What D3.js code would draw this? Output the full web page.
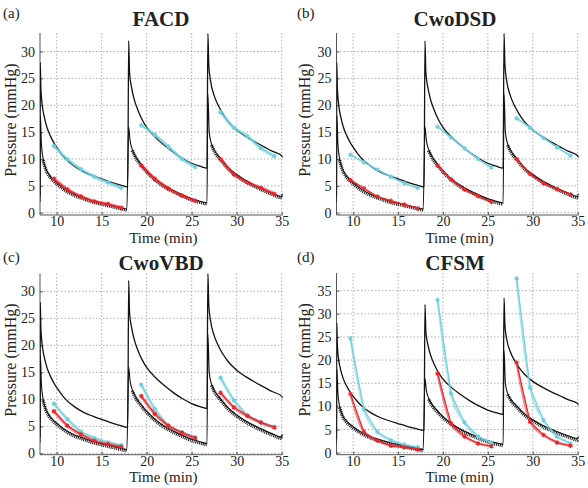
<!DOCTYPE html>
<meta charset="utf-8">
<title>Pressure fits</title>
<style>
  body { margin: 0; background: #fff; }
  text { font-family: "Liberation Serif", "Times New Roman", serif; fill: #222; }
  .grid line { stroke: #9a9a9a; stroke-width: 0.8px; stroke-dasharray: 1.5 2; }
</style>
<body>
<script src="https://cdn.jsdelivr.net/npm/d3@7"></script>
<script>

// measured pressure (same recording in every panel)
var upperT = [8.15, 8.18, 8.25, 8.4, 8.6, 8.9, 9.3, 9.7, 10, 10.5, 11, 12, 13, 14, 15, 16, 17, 17.9,
              18.0, 18.1, 18.3, 18.6, 19, 19.5, 20, 21, 22, 23, 24, 25, 26, 26.7,
              26.8, 26.9, 27.1, 27.5, 28, 28.5, 29, 30, 31, 32, 33, 34, 35, 35.1];
var upperV = [3, 28, 23, 20, 18, 16, 14.3, 13, 12.2, 11, 10, 8.6, 7.6, 6.9, 6.3, 5.7, 5.2, 4.8,
              32, 26, 23.5, 21.2, 19.2, 17.3, 15.9, 14, 12.5, 11.2, 10.1, 9.2, 8.6, 8.3,
              33.4, 27.5, 24.5, 21.8, 19.8, 18.3, 17.1, 15.4, 14.2, 13.2, 12.3, 11.4, 10.6, 10.2];

var lowerT = [8.15, 8.2, 8.3, 8.5, 8.8, 9.2, 9.6, 10, 10.5, 11, 12, 13, 14, 15, 16, 17, 17.8,
              18.0, 18.15, 18.4, 18.8, 19.4, 20, 21, 22, 23, 24, 25, 26, 26.7,
              26.8, 26.95, 27.2, 27.6, 28.2, 29, 30, 31, 32, 33, 34, 35, 35.1];
var lowerV = [2, 18, 13, 10, 8.2, 7, 6.2, 5.6, 4.9, 4.3, 3.4, 2.8, 2.2, 1.8, 1.4, 1.0, 0.7,
              16, 13.5, 11.8, 10.4, 9.0, 7.8, 6.2, 5.0, 4.1, 3.3, 2.6, 2.1, 1.8,
              22, 15, 12.8, 11.4, 10.1, 8.5, 7.1, 6.0, 5.1, 4.3, 3.6, 3.0, 3.6];
var infusionStart = [8.15, 18.0, 26.8];

// model sample times, three infusion cycles
var fitT = [9.7, 11.2, 12.7, 14.2, 15.7, 17.2, 19.4, 20.9, 22.4, 23.9, 25.4, 28.2, 29.7, 31.2, 32.7, 34.2];
var cycles = [[0, 6], [6, 11], [11, 16]];

var facdCyan   = [12.4, 9.9, 8.1, 6.7, 5.6, 4.6, 16.3, 14.5, 12.3, 10.0, 8.5, 18.7, 15.8, 14.2, 12.0, 10.5];
var facdRed    = [6.3, 4.3, 3.0, 2.1, 1.6, 0.9, 8.8, 6.3, 4.5, 3.2, 2.2, 10.0, 7.1, 5.6, 4.6, 3.5];
var cwodsdCyan = [10.8, 9.4, 8.0, 6.7, 5.5, 4.6, 16.0, 14.0, 12.0, 10.0, 8.4, 17.6, 15.8, 13.9, 12.2, 10.6];
var cwodsdRed  = [6.1, 4.5, 3.0, 2.2, 1.5, 0.8, 8.8, 6.2, 4.3, 3.1, 2.0, 10.0, 7.2, 5.5, 4.4, 3.4];
var cwovbdCyan = [9.2, 6.3, 4.0, 2.8, 2.0, 1.5, 12.7, 8.2, 5.1, 3.9, 3.0, 14.0, 9.8, 7.0, 5.7, 4.9];
var cwovbdRed  = [7.8, 5.1, 3.5, 2.3, 1.7, 1.2, 10.6, 7.3, 5.1, 3.8, 2.8, 11.2, 8.5, 6.9, 5.7, 4.8];
var cfsmCyan   = [24.7, 9.4, 4.5, 2.7, 1.7, 1.2, 33.0, 12.8, 6.5, 3.5, 2.2, 37.6, 14.1, 7.0, 3.5, 2.0];
var cfsmRed    = [12.7, 4.5, 2.6, 1.5, 1.2, 0.7, 17.1, 6.3, 3.5, 2.0, 1.4, 19.4, 6.7, 3.8, 2.2, 1.5];

var xTicks = [10, 15, 20, 25, 30, 35];

var panels = [
  { tag: "(a)", title: "FACD",   cyan: facdCyan,   red: facdRed,   yMax: 30, box: [40, 282.6, 33, 215],     yDom: [-0.43, 33.45], ox: 0,   oy: 0,   band: 3.5 },
  { tag: "(b)", title: "CwoDSD", cyan: cwodsdCyan, red: cwodsdRed, yMax: 30, box: [336.5, 578.6, 33, 215],  yDom: [-0.43, 33.45], ox: 294, oy: 0,   band: 2 },
  { tag: "(c)", title: "CwoVBD", cyan: cwovbdCyan, red: cwovbdRed, yMax: 30, box: [40, 282.6, 273.5, 454.7], yDom: [-0.25, 33.3], ox: 0,   oy: 244, band: 3 },
  { tag: "(d)", title: "CFSM",   cyan: cfsmCyan,   red: cfsmRed,   yMax: 35, box: [336.5, 578.6, 273, 454.7], yDom: [-0.43, 38.8], ox: 294, oy: 244, band: 2.5 }
];

var svg = d3.select("body").append("svg")
    .attr("width", 588)
    .attr("height", 488);

var cyanCol = "#6fcfdc", redCol = "#e8262b";
var serif = '"Liberation Serif", "Times New Roman", serif';

panels.forEach(function(p) {
  var x = d3.scaleLinear().domain([8.15, 35.1]).range([p.box[0], p.box[1]]);
  var y = d3.scaleLinear().domain(p.yDom).range([p.box[3], p.box[2]]);
  var yTicks = d3.range(0, p.yMax + 1, 5);
  var g = svg.append("g");

  // grid
  var grid = g.append("g").attr("class", "grid");
  grid.selectAll("line.v").data(xTicks).enter().append("line")
      .attr("x1", d => x(d)).attr("x2", d => x(d))
      .attr("y1", p.box[2]).attr("y2", p.box[3]);
  grid.selectAll("line.h").data(yTicks).enter().append("line")
      .attr("x1", p.box[0]).attr("x2", p.box[1])
      .attr("y1", d => y(d)).attr("y2", d => y(d));

  // axes
  var xAxis = g.append("g").attr("transform", "translate(0," + p.box[3] + ")")
      .call(d3.axisBottom(x).tickValues(xTicks).tickSize(-3).tickPadding(1));
  var yAxis = g.append("g").attr("transform", "translate(" + p.box[0] + ",0)")
      .call(d3.axisLeft(y).tickValues(yTicks).tickSize(-3).tickPadding(5));
  [xAxis, yAxis].forEach(function(a) {
    a.attr("font-family", null).attr("font-size", null);
    a.select(".domain").attr("stroke", "#555").attr("stroke-width", 1);
    a.selectAll(".tick line").attr("stroke", "#555");
    a.selectAll("text").style("font-family", serif).style("font-size", "14px").attr("fill", "#222");
  });
  // drop the end caps of the domain paths
  xAxis.select(".domain").attr("d", "M" + p.box[0] + ",0H" + p.box[1]);
  yAxis.select(".domain").attr("d", "M0," + p.box[2] + "V" + p.box[3]);

  var line = d3.line().x(d => x(d[0])).y(d => y(d[1])).curve(d3.curveMonotoneX);
  var lineLin = d3.line().x(d => x(d[0])).y(d => y(d[1]));

  var clip = "clip" + p.tag.replace(/\W/g, "");
  g.append("clipPath").attr("id", clip).append("rect")
      .attr("x", p.box[0]).attr("y", p.box[2])
      .attr("width", p.box[1] - p.box[0]).attr("height", p.box[3] - p.box[2]);
  var plot = g.append("g").attr("clip-path", "url(#" + clip + ")");

  var up = upperT.map((t, i) => [t, upperV[i]]);
  var lo = lowerT.map((t, i) => [t, lowerV[i]]);

  // noisy lower recording: textured band on the decays only, then the trace
  infusionStart.forEach(function(s, k) {
    var end = k < 2 ? infusionStart[k + 1] - 0.05 : 40;
    var seg = lo.filter(d => d[0] >= s + 0.3 && d[0] <= end);
    plot.append("path").attr("d", line(seg))
        .attr("fill", "none").attr("stroke", "#1a1a1a").attr("stroke-width", 3.4)
        .attr("stroke-dasharray", "1 0.9").attr("transform", "translate(0,1.2)");
  });
  plot.append("path").attr("d", line(lo))
      .attr("fill", "none").attr("stroke", "#111").attr("stroke-width", 1.1);
  plot.append("path").attr("d", line(up))
      .attr("fill", "none").attr("stroke", "#111").attr("stroke-width", 1.3);

  // model fits
  [[p.cyan, cyanCol], [p.red, redCol]].forEach(function(s) {
    cycles.forEach(function(c) {
      var pts = fitT.slice(c[0], c[1]).map((t, i) => [t, s[0][c[0] + i]]);
      plot.append("path").attr("d", line(pts))
          .attr("fill", "none").attr("stroke", s[1]).attr("stroke-width", p.band)
          .attr("stroke-opacity", 0.55);
      plot.append("path").attr("d", lineLin(pts))
          .attr("fill", "none").attr("stroke", s[1]).attr("stroke-width", 1.1);
      plot.selectAll(null).data(pts).enter().append("path")
          .attr("d", d3.symbol(d3.symbolAsterisk, 14)())
          .attr("transform", d => "translate(" + x(d[0]) + "," + y(d[1]) + ")")
          .attr("stroke", s[1]).attr("stroke-width", 1.4).attr("fill", s[1]);
    });
  });

  // labels
  g.append("text").attr("x", p.ox + 3).attr("y", p.oy + 18)
      .style("font-size", "15px").text(p.tag);
  g.append("text").attr("x", p.ox + 161).attr("y", p.oy + 26)
      .attr("text-anchor", "middle").style("font-size", "21px").attr("font-weight", "bold")
      .text(p.title);
  g.append("text").attr("x", (p.box[0] + p.box[1]) / 2 + 2).attr("y", p.box[3] + 27.5)
      .attr("text-anchor", "middle").style("font-size", "15px").text("Time (min)");
  g.append("text")
      .attr("transform", "translate(" + (p.ox + 16) + "," + ((p.box[2] + p.box[3]) / 2 - 4) + ") rotate(-90)")
      .attr("text-anchor", "middle").style("font-size", "16px").text("Pressure (mmHg)");
});

</script>
</body>
